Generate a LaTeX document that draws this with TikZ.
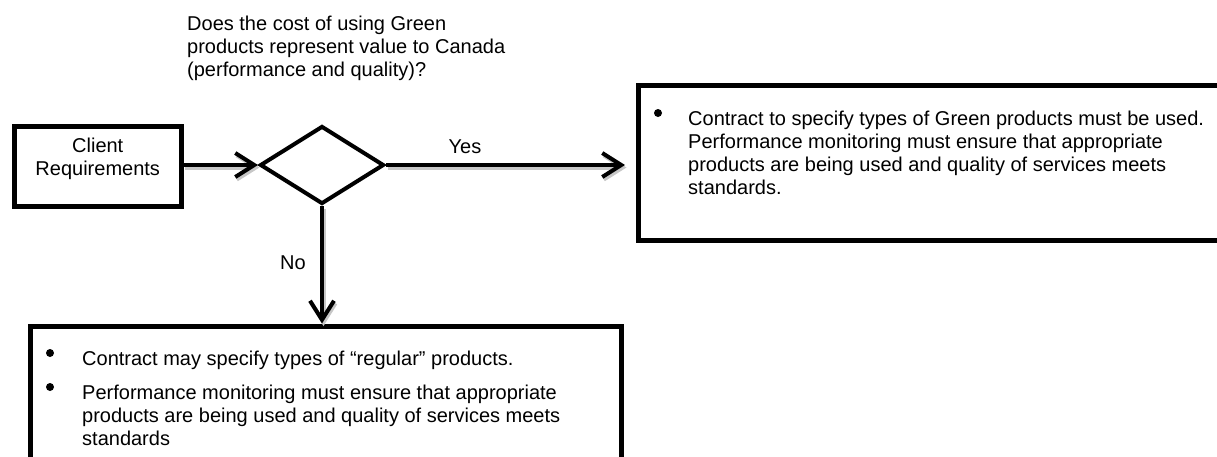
\documentclass[tikz,border=0pt]{standalone}
\usepackage{fontspec}
\setmainfont{Liberation Sans}
\usetikzlibrary{shapes.geometric,arrows.meta}
\begin{document}
\begin{tikzpicture}[x=1pt,y=-1pt,
  txt/.style={font=\fontsize{20}{23}\selectfont, inner sep=0pt, align=left},
  frame/.style={draw, line width=5pt, inner sep=0pt},
  decision/.style={draw, diamond, line width=4pt, inner sep=0pt},
  dot/.style={circle, fill=black, inner sep=0pt, minimum size=8pt},
  flow/.style={line width=4pt, -{Straight Barb[length=19pt,width=24pt]}},
  flowshadow/.style={flow, black!22}
]
\useasboundingbox (0,0) rectangle (1217,456);
\clip (0,0) rectangle (1217,456);

% boxes and decision
\node[frame, minimum width=166.5pt, minimum height=80pt] (client) at (97.75,166) {};
\node[txt, align=center, anchor=north] (clienttxt) at (97.75,137.5) {Client\\Requirements};
\node[decision, minimum width=124pt, minimum height=78pt] (dec) at (322,165) {};
\node[frame, minimum width=600pt, minimum height=155pt] (yesbox) at (938,162.5) {};
\node[frame, minimum width=590.5pt, minimum height=150pt] (nobox) at (325.75,401) {};

% question above the decision
\node[txt, anchor=north west] (question) at (187,16)
  {Does the cost of using Green\\products represent value to Canada\\(performance and quality)?};

% text of the Yes branch
\node[dot] (ydot) at (658,113) {};
\node[txt, anchor=north west] (yestxt) at (688,111)
  {Contract to specify types of Green products must be used.\\Performance monitoring must ensure that appropriate\\products are being used and quality of services meets\\standards.};

% text of the No branch
\node[dot] (ndot1) at (50,353) {};
\node[txt, anchor=north west] (notxt1) at (82,351)
  {Contract may specify types of “regular” products.};
\node[dot] (ndot2) at (50,387) {};
\node[txt, anchor=north west] (notxt2) at (82,385)
  {Performance monitoring must ensure that appropriate\\products are being used and quality of services meets\\standards};

% branch labels
\node[txt] (yes) at (465,147) {Yes};
\node[txt] (no) at (293,263) {No};

% connector shadows
\begin{scope}[transform canvas={shift={(1.5pt,-2.5pt)}}]
  \draw[flowshadow] (client.east |- dec.west) -- (dec.west);
  \draw[flowshadow, shorten >=10.5pt] (dec.east) -- (yesbox.west |- dec.east);
  \draw[flowshadow] (dec.south) -- (nobox.north -| dec.south);
\end{scope}

% connectors
\draw[flow] (client.east |- dec.west) -- (dec.west);
\draw[flow, shorten >=10.5pt] (dec.east) -- (yesbox.west |- dec.east);
\draw[flow] (dec.south) -- (nobox.north -| dec.south);
\end{tikzpicture}
\end{document}
